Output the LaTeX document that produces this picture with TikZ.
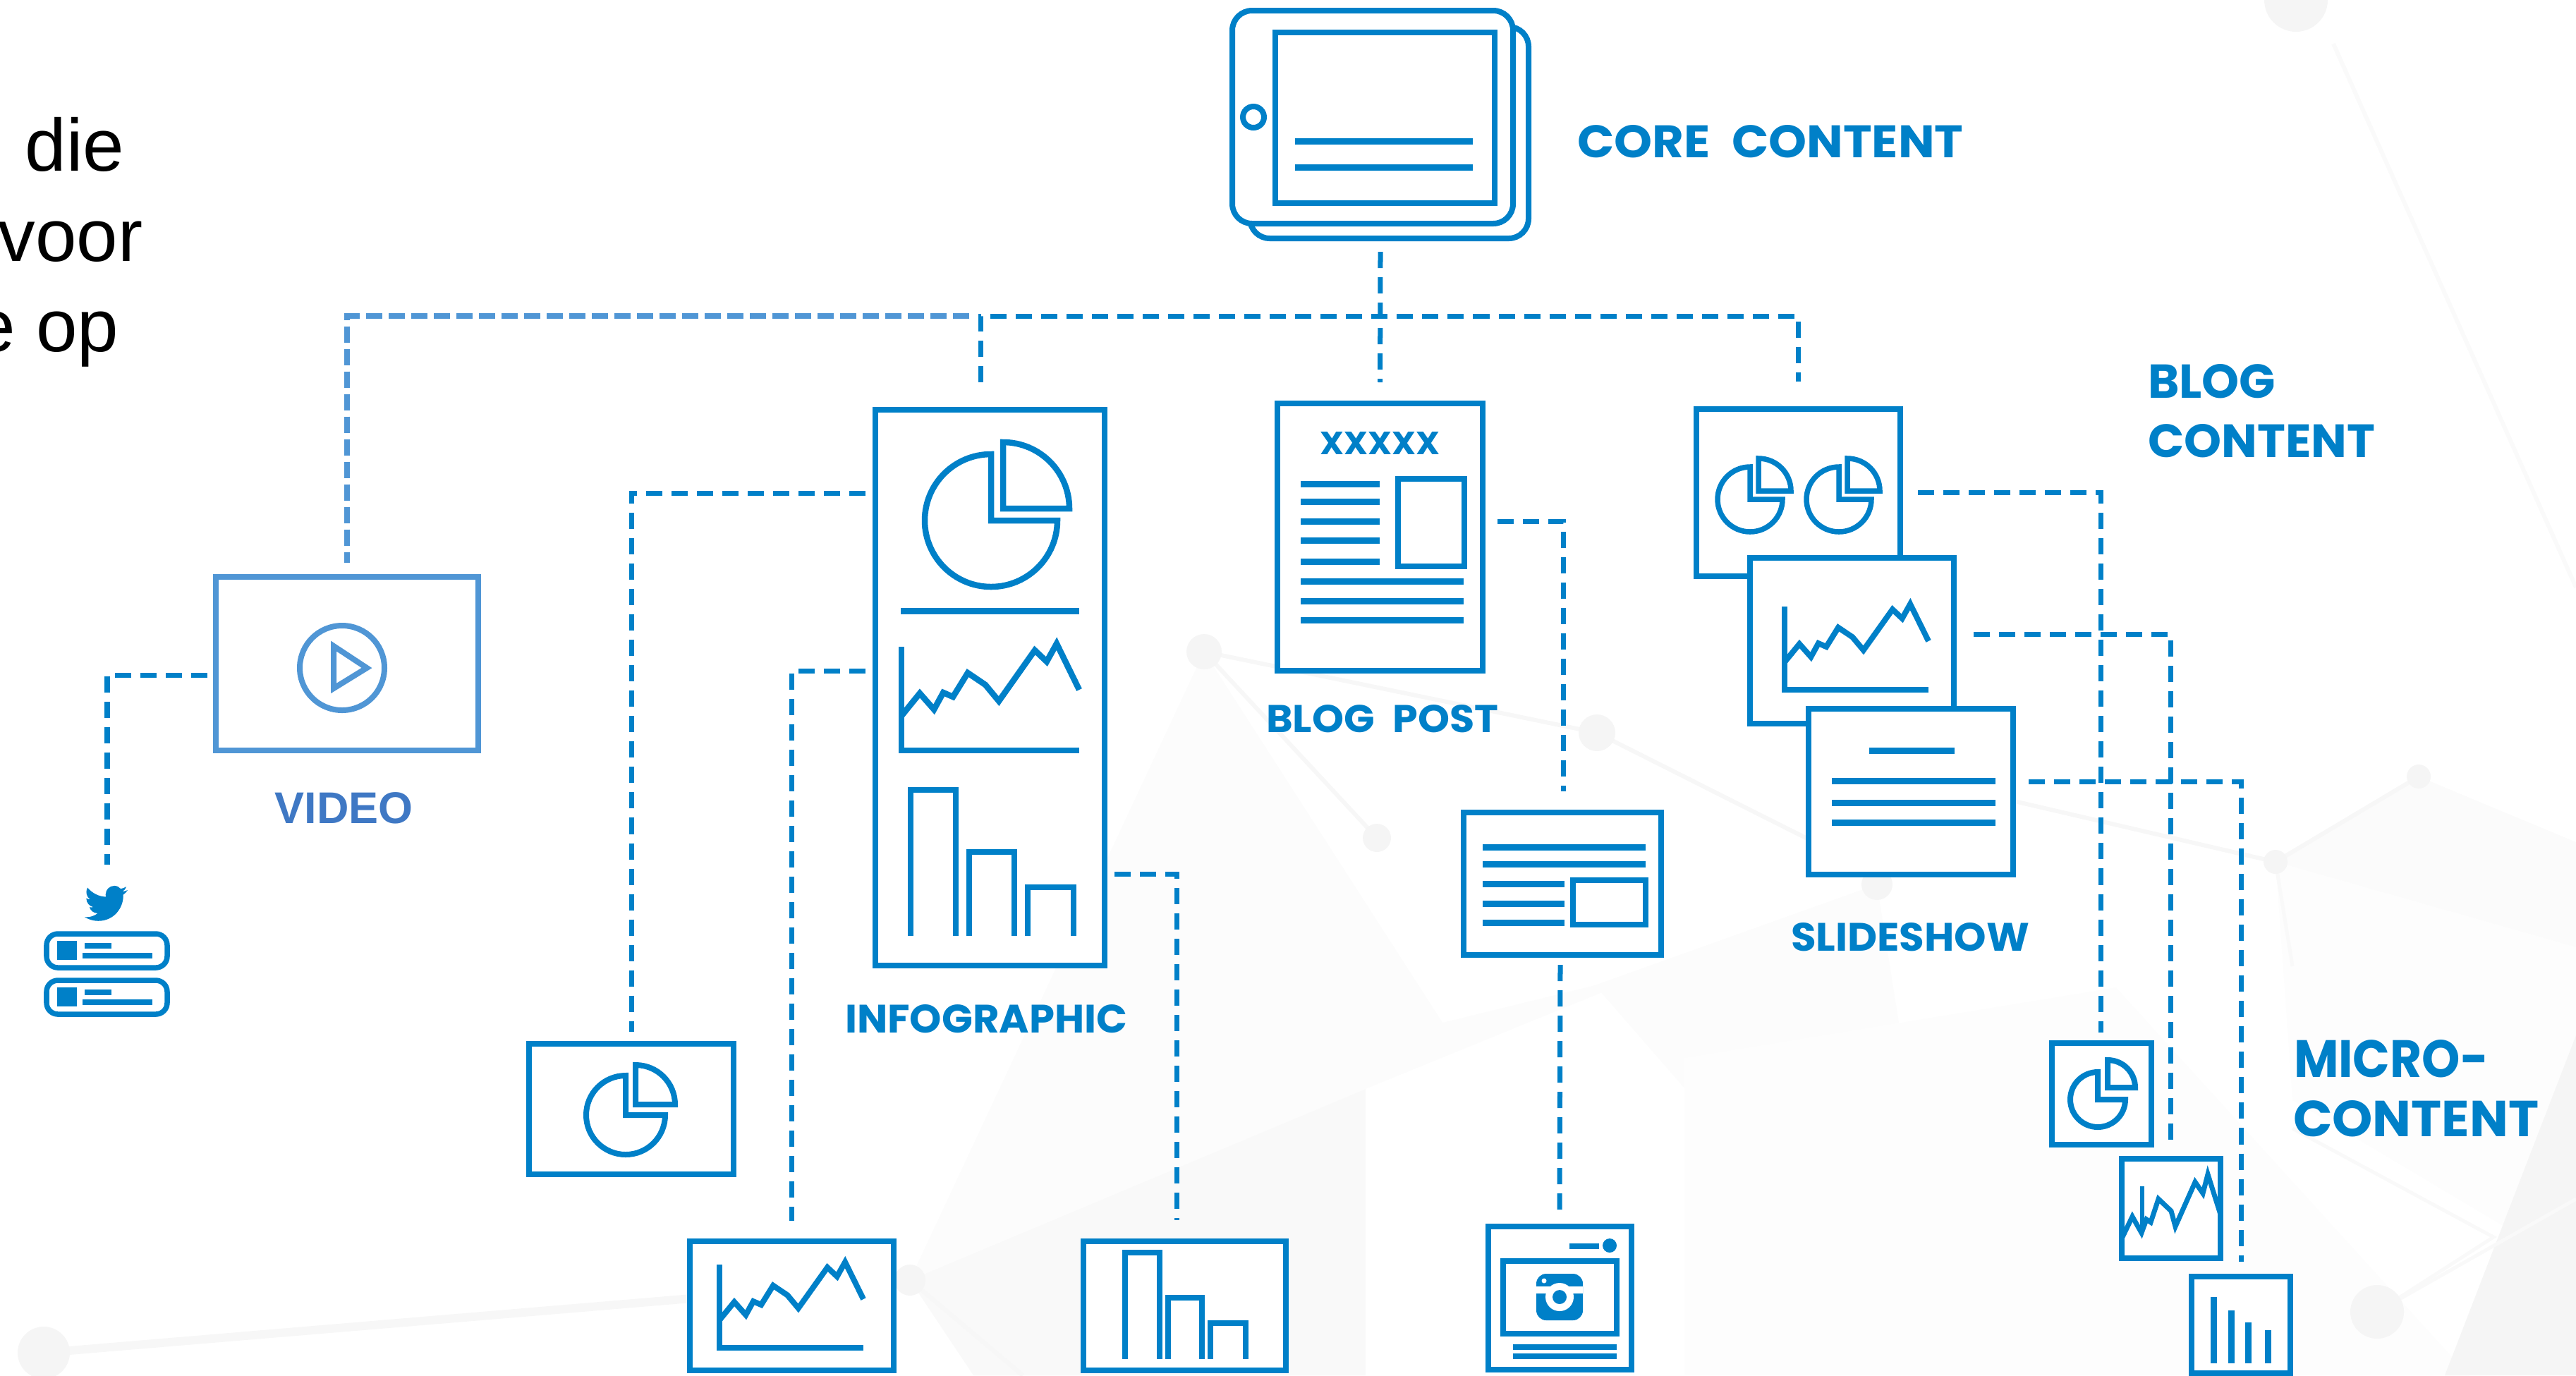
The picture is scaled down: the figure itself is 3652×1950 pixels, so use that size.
\documentclass[tikz,border=0pt]{standalone}
\usepackage{fontspec}
\usepackage{graphicx}
\setmainfont{Liberation Sans}
\newfontfamily\lblfont{Poppins}
\definecolor{ic}{HTML}{0080C8}
\definecolor{vid}{HTML}{5096D5}
\definecolor{vidtxt}{HTML}{3F78C4}
\tikzset{
  boxn/.style={draw=ic,fill=white,line width=0.08cm,rectangle,inner sep=0pt,outer sep=0pt,sharp corners},
  vidbox/.style={boxn,draw=vid,line width=0.08cm},
  cardn/.style={boxn,rounded corners=0.16cm,line width=0.075cm},
  tabn/.style={boxn,rounded corners=0.28cm,line width=0.08cm},
  conn/.style={draw=ic,line width=0.07cm,dash pattern=on 0.23cm off 0.13cm},
  vidconn/.style={draw=vid,line width=0.08cm,dash pattern=on 0.23cm off 0.09cm},
  rule/.style={draw=ic,line width=0.09cm},
  glyph/.style={draw=ic,line width=0.08cm,line join=miter},
  lbl/.style={anchor=north west,inner sep=0pt,outer sep=0pt,text=ic},
  bgl/.style={draw=black!3,line width=0.06cm},
  bgd/.style={fill=black!4,draw=none}
}
\newcommand{\bxn}[6]{\node[#1,minimum width={(#5-#3)*0.01cm},minimum height={(#6-#4)*0.01cm}] (#2) at ({(#3+#5)/2},{(#4+#6)/2}) {};}
% pie icon: centre x, centre y, radius, wedge dx, wedge dy, line width
\newcommand{\pieicon}[6]{%
  \draw[glyph,line width=#6 cm] (#1,{#2-#3}) arc[start angle=270,end angle=0,radius=#3] -- (#1,#2) -- cycle;
  \draw[glyph,line width=#6 cm] ({#1+#4},{#2+#5-#3}) arc[start angle=270,end angle=360,radius=#3] -- ({#1+#4},{#2+#5}) -- cycle;
}
% line chart icon: axis x, axis bottom y, width, height, line width
\newcommand{\charticon}[5]{%
  \draw[glyph,line width=#5 cm] (#1,{#2-#4}) -- (#1,#2) -- ({#1+#3},#2);
  \begin{scope}[shift={(#1,#2)},xscale=#3,yscale=-#4]
    \draw[glyph,line width=#5 cm] (0,.333)--(.103,.551)--(.183,.395)--(.235,.558)--(.290,.517)--(.373,.748)--(.472,.633)--(.548,.476)--(.75,.966)--(.817,.857)--(.873,1.03)--(1,.585);
  \end{scope}
}
\newcommand{\baricon}[5]{\draw[glyph,line width=#5 cm] (#1,#4) -- (#1,#3) -- (#2,#3) -- (#2,#4);}
\newcommand{\lblt}[6]{\node[lbl] (#1) at (#2,#3) {\resizebox{#4cm}{#5cm}{\lblfont\bfseries #6}};}
\begin{document}
\begin{tikzpicture}[x=0.01cm,y=-0.01cm,line cap=butt]
\useasboundingbox (0,0) rectangle (3652,1950);
% ---------- background
\begin{scope}
\clip (0,0) rectangle (3652,1950);
\fill[black!1] (1707,924) -- (2045,1450) -- (2261,1397) -- (2661,1254) -- (2350,1375) -- (1936,1544) -- (1290,1815) -- cycle;
\fill[black!2.5] (1290,1815) -- (1936,1544) -- (1936,1950) -- (1380,1950) -- cycle;
\fill[black!1] (1707,924) -- (1290,1815) -- (1936,1544) -- (2045,1450) -- cycle;
\fill[black!1] (2261,1397) -- (2661,1254) -- (2700,1500) -- (2388,1543) -- cycle;
\fill[black!0.6] (2388,1500) -- (3000,1400) -- (3500,1950) -- (2388,1950) -- cycle;
\fill[black!1.5] (3429,1101) -- (3652,1194) -- (3652,1343) -- (3226,1222) -- cycle;
\fill[black!0.8] (3226,1222) -- (3652,1343) -- (3652,1800) -- (3250,1560) -- cycle;
\fill[black!4] (3466,1950) -- (3652,1468) -- (3652,1950) -- cycle;
\draw[black!3,line width=0.12cm] (62,1918) -- (1290,1815);
\draw[bgl] (1707,924) -- (2264,1039) -- (2564,1190);
\draw[bgl] (1707,924) -- (1952,1188);
\draw[bgl] (2856,1136) -- (3226,1222) -- (3429,1101);
\draw[black!2,line width=0.06cm] (3308,62) -- (3652,833);
\draw[black!2.5,line width=0.05cm] (3226,1222) -- (3250,1370);
\draw[black!2.5,line width=0.05cm] (3250,1600) -- (3535,1754) -- (3370,1860);
\draw[black!2.5,line width=0.05cm] (3370,1860) -- (3652,1700);
\draw[black!3,line width=0.06cm] (1290,1815) -- (1450,1950);
\fill[bgd] (1707,924) circle[radius=25];
\fill[bgd] (2264,1039) circle[radius=26];
\fill[bgd] (1952,1188) circle[radius=20];
\fill[bgd] (1290,1815) circle[radius=22];
\fill[bgd] (2661,1254) circle[radius=22];
\fill[bgd] (3429,1101) circle[radius=17];
\fill[bgd] (3226,1222) circle[radius=17];
\fill[bgd] (3370,1860) circle[radius=38];
\fill[bgd] (3255,0) circle[radius=45];
\fill[bgd] (62,1918) circle[radius=37];
\fill[white] (1936,1618) rectangle (2388,1950);
\fill[white] (2215,1543) rectangle (2388,1618);
\end{scope}
% ---------- left text
\node[anchor=base west,inner sep=0pt] (t1) at (35,242) {\fontsize{29.9}{36}\selectfont die};
\node[anchor=base west,inner sep=0pt] (t2) at (-3,370) {\fontsize{29.9}{36}\selectfont voor};
\node[anchor=base west,inner sep=0pt] (t3) at (-37,498) {\fontsize{29.9}{36}\selectfont e op};
% ---------- free connector ends
\coordinate (ctab) at (1957,357);
\coordinate (hubL) at (1374,448);
\coordinate (infoT) at (1390,542);
\coordinate (hubR) at (2549,448);
\coordinate (slideT) at (2549,541);
\coordinate (vidL) at (294,957);
\coordinate (twT) at (152,1226);
\coordinate (infoA) at (1227,699);
\coordinate (infoB) at (1227,951);
\coordinate (infoC) at (1580,1239);
\coordinate (barT) at (1668,1730);
\coordinate (blogR) at (2123,739);
\coordinate (artT) at (2216,1122);
\coordinate (artB) at (2212,1368);
\coordinate (igT) at (2211,1718);
\coordinate (sA) at (2719,698);
\coordinate (sAe) at (2978,1464);
\coordinate (sB) at (2798,899);
\coordinate (sBe) at (3077,1620);
\coordinate (sC) at (2876,1108);
\coordinate (sCe) at (3177,1789);
% ---------- boxes
\bxn{tabn}{tabback}{1772}{38}{2167}{338}
\bxn{tabn}{tablet}{1747}{15}{2145}{317}
\bxn{boxn}{screen}{1808}{46}{2119}{288}
\draw[draw=ic,line width=0.08cm] (1777,166) circle[radius=15];
\draw[rule] (1836,200) -- (2088,200);
\draw[rule] (1836,237) -- (2088,237);
\bxn{vidbox}{video}{306}{818}{678}{1064}
\bxn{boxn}{info}{1241}{581}{1566}{1369}
\bxn{boxn}{blog}{1811}{572}{2102}{951}
\bxn{boxn}{sone}{2405}{580}{2694}{817}
\bxn{boxn}{stwo}{2481}{791}{2770}{1026}
\bxn{boxn}{sthree}{2564}{1005}{2854}{1240}
\bxn{boxn}{article}{2075}{1152}{2355}{1354}
\bxn{boxn}{pieS}{750}{1480}{1040}{1665}
\bxn{boxn}{chartS}{978}{1760}{1267}{1943}
\bxn{boxn}{barS}{1536}{1760}{1823}{1943}
\bxn{boxn}{ig}{2110}{1739}{2313}{1942}
\bxn{boxn}{mone}{2909}{1479}{3050}{1623}
\bxn{boxn}{mtwo}{3008}{1643}{3148}{1784}
\bxn{boxn}{mthree}{3107}{1810}{3247}{1947}
\bxn{cardn}{cardA}{66}{1324}{237}{1372}
\bxn{cardn}{cardB}{66}{1390}{237}{1438}
% ---------- connectors
\draw[conn,shorten >=0.30cm] (ctab) -- (blog.north);
\draw[conn] (infoT) |- (hubR) -- (slideT);
\draw[vidconn,shorten >=0.20cm] (hubL) -| (video.north);
\draw[conn] (vidL) -| (twT);
\draw[conn,shorten >=0.17cm] (infoA) -| (pieS.north);
\draw[conn,shorten >=0.29cm] (infoB) -| (chartS.north);
\draw[conn] (infoC) -| (barT);
\draw[conn] (blogR) -| (artT);
\draw[conn] (artB) -- (igT);
\draw[conn] (sA) -| (sAe);
\draw[conn] (sB) -| (sBe);
\draw[conn] (sC) -| (sCe);
% ---------- video
\draw[draw=vid,line width=0.08cm] (485,947) circle[radius=60];
\draw[draw=vid,line width=0.08cm,line join=miter] (473,916) -- (520,947) -- (473,976) -- cycle;
\node[inner sep=0pt,text=vidtxt,anchor=base west] (vidl) at (389,1167) {\fontsize{17.9}{20}\selectfont\bfseries VIDEO};
% ---------- twitter
\begin{scope}[shift={(120,1250.5)},scale=2.54]
\fill[ic] (23.953,4.57) .. controls (23.1,4.95) and (22.1,5.2) .. (21.128,5.345)
 .. controls (22.1,4.75) and (22.9,3.8) .. (23.291,2.622)
 .. controls (22.34,3.177) and (21.286,3.581) .. (20.164,3.806)
 .. controls (19.3,2.8) and (17.9,2.13) .. (16.6,2.13)
 .. controls (13.9,2.13) and (11.7,4.3) .. (11.7,7.05)
 .. controls (11.7,7.45) and (11.75,7.9) .. (11.78,8.288)
 .. controls (7.69,8.095) and (4.067,6.13) .. (1.64,3.162)
 .. controls (1.2,3.9) and (.974,4.75) .. (.974,5.637)
 .. controls (.974,7.347) and (1.844,8.85) .. (3.162,9.733)
 .. controls (2.35,9.7) and (1.6,9.5) .. (.934,9.117) -- (.934,9.177)
 .. controls (.934,11.55) and (2.6,13.55) .. (4.88,14.004)
 .. controls (4.15,14.2) and (3.4,14.23) .. (2.668,14.089)
 .. controls (3.3,16.05) and (5.15,17.45) .. (7.272,17.506)
 .. controls (5.55,18.85) and (3.4,19.611) .. (1.17,19.611)
 .. controls (.78,19.611) and (.391,19.588) .. (0,19.544)
 .. controls (2.2,20.95) and (4.8,21.753) .. (7.557,21.753)
 .. controls (16.61,21.753) and (21.555,14.257) .. (21.555,7.768)
 .. controls (21.555,7.558) and (21.555,7.348) .. (21.54,7.138)
 .. controls (22.5,6.45) and (23.35,5.57) .. (24,4.59) -- cycle;
\end{scope}
\fill[ic] (81,1334) rectangle (109,1361);
\fill[ic] (120,1337) rectangle (158,1345);
\fill[ic] (117,1351) rectangle (216,1359);
\fill[ic] (81,1400) rectangle (109,1427);
\fill[ic] (120,1403) rectangle (158,1411);
\fill[ic] (117,1417) rectangle (216,1425);
% ---------- infographic
\pieicon{1405}{738}{94}{17}{-17}{0.085}
\draw[rule] (1277,866) -- (1530,866);
\charticon{1278}{1064}{252}{147}{0.085}
\baricon{1291}{1355}{1120}{1327}{0.085}
\baricon{1374}{1438}{1208}{1327}{0.085}
\baricon{1457}{1522}{1258}{1327}{0.085}
% ---------- blog post
\lblt{xlbl}{1871}{612}{1.70}{0.32}{XXXXX}
\foreach \yy in {686,711,739,766,796} {\draw[rule] (1844,\yy) -- (1956,\yy);}
\foreach \yy in {824,852,879} {\draw[rule] (1844,\yy) -- (2075,\yy);}
\bxn{boxn}{blogimg}{1982}{679}{2076}{803}
% ---------- article
\foreach \yy in {1201,1225} {\draw[rule] (2102,\yy) -- (2333,\yy);}
\foreach \yy in {1253,1281,1308} {\draw[rule] (2102,\yy) -- (2218,\yy);}
\bxn{boxn}{artimg}{2230}{1248}{2333}{1311}
% ---------- slideshow
\pieicon{2481}{708}{46}{12}{-12}{0.075}
\pieicon{2607}{708}{46}{12}{-12}{0.075}
\charticon{2530}{978}{204}{118}{0.08}
\draw[rule] (2650,1064) -- (2771,1064);
\foreach \yy in {1107,1138,1166} {\draw[rule] (2597,\yy) -- (2829,\yy);}
% ---------- small boxes
\pieicon{887}{1581}{56}{14}{-15}{0.08}
\charticon{1020}{1911}{204}{118}{0.08}
\baricon{1595}{1644}{1776}{1927}{0.08}
\baricon{1656}{1704}{1840}{1927}{0.08}
\baricon{1716}{1766}{1876}{1927}{0.08}
% ---------- instagram post
\bxn{boxn}{igimg}{2131}{1788}{2292}{1891}
\fill[ic] (2225,1763) rectangle (2267,1771);
\fill[ic] (2282,1766) circle[radius=10];
\fill[ic] (2145,1906) rectangle (2292,1914);
\fill[ic] (2145,1919) rectangle (2292,1927);
\fill[ic,rounded corners=0.14cm] (2178,1806) rectangle (2244,1872);
\fill[white] (2178,1824) rectangle (2244,1834);
\fill[white] (2211,1839) circle[radius=20];
\fill[ic] (2211,1839) circle[radius=10];
\fill[white] (2189,1816) circle[radius=3.5];
% ---------- micro content
\pieicon{2974}{1559}{39}{14}{-17}{0.08}
\draw[glyph,line width=0.07cm] (3009,1754)--(3023,1725)--(3036,1748)--(3043,1729)--(3049,1733)--(3060,1700)--(3078,1717)--(3084,1739)--(3112,1676)--(3123,1692)--(3130,1665)--(3148,1722);
\draw[glyph,line width=0.06cm] (3037,1682) -- (3037,1748);
\draw[rule] (3138,1839) -- (3138,1933);
\draw[rule] (3163,1858) -- (3163,1933);
\draw[rule] (3187,1875) -- (3187,1933);
\draw[rule] (3215,1886) -- (3215,1933);
% ---------- labels
\lblt{lcore}{2236}{177}{5.47}{0.46}{CORE\hspace{0.45em}CONTENT}
\lblt{lblog}{3045}{516}{1.81}{0.48}{BLOG}
\lblt{lcont}{3045}{601}{3.22}{0.47}{CONTENT}
\lblt{lpost}{1795}{999}{3.29}{0.39}{BLOG\hspace{0.45em}POST}
\lblt{linfo}{1198}{1424}{4.00}{0.40}{INFOGRAPHIC}
\lblt{lslide}{2539}{1308}{3.38}{0.40}{SLIDESHOW}
\lblt{lmicro}{3252}{1474}{2.76}{0.53}{MICRO-}
\lblt{lmcont}{3251}{1560}{3.48}{0.51}{CONTENT}
\end{tikzpicture}
\end{document}
